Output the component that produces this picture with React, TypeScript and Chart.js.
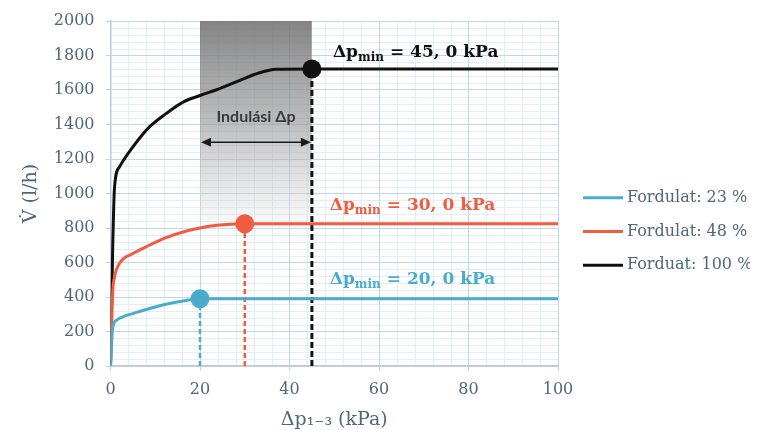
import React, { useEffect, useRef } from 'react';
import { Chart, registerables } from 'chart.js';

Chart.register(...registerables);

// ---- data ----
const seriesLabels = ['Fordulat: 23 %', 'Fordulat: 48 %', 'Forduat: 100 %'];
const seriesColors = ['#4aaccd', '#f15c3e', '#111111'];

const blueX = [0, 0.4, 0.8, 1.3, 3, 5, 8.7, 12.4, 16.2, 20, 100];
const blueY = [0, 200, 250, 265, 288, 304, 333, 358, 377, 390, 390];

const redX = [0, 0.5, 0.9, 2, 5, 8.7, 12.4, 16.2, 20, 23.7, 30, 100];
const redY = [0, 430, 516, 594, 652, 700, 744, 777, 800, 816, 825, 825];

const blackX = [0, 0.5, 0.9, 2, 5, 8.7, 12.4, 16.2, 20, 24.4, 28.9, 33.3, 37, 45, 100];
const blackY = [0, 700, 1038, 1154, 1270, 1386, 1463, 1530, 1568, 1608, 1656, 1700, 1720, 1722, 1722];

// minimum pressure points (Δp_min) per series
const minPressure = [20, 30, 45];
const minFlow = [390, 825, 1722];
const minLabels = ['20, 0 kPa', '30, 0 kPa', '45, 0 kPa'];
const minLabelX = [49, 49, 49.7];
const minLabelY = [474, 903, 1790];

// startup Δp range
const startupRange = [20, 45];
const startupTop = 2000;
const startupArrowY = 1297;
const startupTextY = 1442;
const startupText = 'Indulási Δp';

const xTicksMax = 100;
const yTicksMax = 2000;

const TICK_COLOR = '#4f6779';
const SERIF = '"DejaVu Serif", serif';

const pts = (xs: number[], ys: number[]) => xs.map((x, i) => ({ x, y: ys[i] }));

const minorGrid = {
  id: 'minorGrid',
  beforeDraw(chart: any) {
    const { ctx, chartArea } = chart;
    const xs = chart.scales.x;
    const ys = chart.scales.y;
    ctx.save();
    ctx.strokeStyle = '#e1eef6';
    ctx.lineWidth = 1;
    for (let v = 0; v <= xTicksMax; v += 4) {
      if (v % 20 === 0) continue;
      const px = Math.round(xs.getPixelForValue(v)) + 0.5;
      ctx.beginPath();
      ctx.moveTo(px, chartArea.top);
      ctx.lineTo(px, chartArea.bottom);
      ctx.stroke();
    }
    for (let v = 0; v <= yTicksMax; v += 40) {
      if (v % 200 === 0) continue;
      const py = Math.round(ys.getPixelForValue(v)) + 0.5;
      ctx.beginPath();
      ctx.moveTo(chartArea.left, py);
      ctx.lineTo(chartArea.right, py);
      ctx.stroke();
    }
    ctx.restore();
  },
};

const annotations = {
  id: 'annotations',
  afterDatasetsDraw(chart: any) {
    const { ctx } = chart;
    const xs = chart.scales.x;
    const ys = chart.scales.y;
    ctx.save();
    // Δp_min labels
    for (let i = 0; i < 3; i++) {
      let x = xs.getPixelForValue(minLabelX[i]);
      const y = ys.getPixelForValue(minLabelY[i]);
      ctx.fillStyle = seriesColors[i];
      ctx.textBaseline = 'alphabetic';
      ctx.textAlign = 'left';
      ctx.font = `bold 17px ${SERIF}`;
      ctx.fillText('Δp', x, y);
      x += ctx.measureText('Δp').width;
      ctx.font = `bold 12px ${SERIF}`;
      ctx.fillText('min', x, y + 4);
      x += ctx.measureText('min').width;
      ctx.font = `bold 17px ${SERIF}`;
      ctx.fillText(' = ' + minLabels[i], x, y);
    }
    // arrow
    const x1 = xs.getPixelForValue(startupRange[0]);
    const x2 = xs.getPixelForValue(startupRange[1]);
    const ay = ys.getPixelForValue(startupArrowY);
    ctx.strokeStyle = '#1a1a1a';
    ctx.fillStyle = '#1a1a1a';
    ctx.lineWidth = 1.6;
    ctx.beginPath();
    ctx.moveTo(x1 + 6, ay);
    ctx.lineTo(x2 - 6, ay);
    ctx.stroke();
    const head = (tx: number, dir: number) => {
      ctx.beginPath();
      ctx.moveTo(tx, ay);
      ctx.lineTo(tx + dir * 10, ay - 4.5);
      ctx.lineTo(tx + dir * 10, ay + 4.5);
      ctx.closePath();
      ctx.fill();
    };
    head(x1 + 1, 1);
    head(x2 - 1, -1);
    // text
    ctx.font = 'bold 16px Lato, sans-serif';
    ctx.fillStyle = '#3a3a3a';
    ctx.textAlign = 'center';
    ctx.textBaseline = 'middle';
    ctx.fillText(startupText, (x1 + x2) / 2, ys.getPixelForValue(startupTextY));
    ctx.restore();
  },
};

const customLegend = {
  id: 'customLegend',
  afterDraw(chart: any) {
    const { ctx, chartArea } = chart;
    const h = chartArea.bottom - chartArea.top;
    const x0 = chartArea.right + 25;
    ctx.save();
    for (let i = 0; i < 3; i++) {
      const y = chartArea.top + h * 0.512 + i * 33.8;
      ctx.strokeStyle = seriesColors[i];
      ctx.lineWidth = 3;
      ctx.beginPath();
      ctx.moveTo(x0, y);
      ctx.lineTo(x0 + 40, y);
      ctx.stroke();
      ctx.fillStyle = TICK_COLOR;
      ctx.font = `16px ${SERIF}`;
      ctx.textAlign = 'left';
      ctx.textBaseline = 'middle';
      ctx.fillText(seriesLabels[i], x0 + 44, y);
    }
    ctx.restore();
  },
};

export default function App() {
  const ref = useRef<HTMLCanvasElement>(null);

  useEffect(() => {
    if (!ref.current) return;
    const curveBase = {
      showLine: true,
      pointRadius: 0,
      borderWidth: 3,
      cubicInterpolationMode: 'monotone' as const,
      fill: false,
    };
    const chart = new Chart(ref.current, {
      type: 'scatter',
      data: {
        datasets: [
          {
            label: 'startup',
            data: [
              { x: startupRange[0], y: startupTop },
              { x: startupRange[1], y: startupTop },
            ],
            showLine: true,
            borderWidth: 0,
            pointRadius: 0,
            fill: 'origin',
            order: 10,
            backgroundColor: (c: any) => {
              const ch = c.chart;
              if (!ch.chartArea) return 'rgba(0,0,0,0)';
              const ys = ch.scales.y;
              const top = ys.getPixelForValue(startupTop);
              const bot = ys.getPixelForValue(0);
              const g = ch.ctx.createLinearGradient(0, top, 0, bot);
              g.addColorStop(0, 'rgba(115,115,115,0.88)');
              g.addColorStop(0.3, 'rgba(150,150,150,0.62)');
              g.addColorStop(0.5, 'rgba(200,200,200,0.38)');
              g.addColorStop(0.7, 'rgba(255,255,255,0)');
              g.addColorStop(1, 'rgba(255,255,255,0)');
              return g;
            },
          },
          ...minPressure.map((p, i) => ({
            label: 'drop' + i,
            data: [
              { x: p, y: 0 },
              { x: p, y: minFlow[i] },
            ],
            showLine: true,
            pointRadius: 0,
            borderColor: seriesColors[i],
            borderWidth: i === 2 ? 3 : 2.5,
            borderDash: i === 2 ? [6, 3] : [5, 3],
            order: 5,
          })),
          { ...curveBase, label: seriesLabels[0], data: pts(blueX, blueY), borderColor: seriesColors[0], order: 3 },
          { ...curveBase, label: seriesLabels[1], data: pts(redX, redY), borderColor: seriesColors[1], order: 3 },
          { ...curveBase, label: seriesLabels[2], data: pts(blackX, blackY), borderColor: seriesColors[2], order: 3 },
          {
            label: 'min points',
            data: pts(minPressure, minFlow),
            showLine: false,
            pointRadius: 9.5,
            pointBorderWidth: 0,
            pointBackgroundColor: seriesColors,
            pointBorderColor: seriesColors,
            order: 1,
          },
        ],
      },
      options: {
        animation: false,
        responsive: false,
        layout: { padding: { top: 21, right: 192, bottom: 9, left: 0 } },
        plugins: {
          legend: { display: false },
          tooltip: { enabled: false },
        },
        scales: {
          x: {
            type: 'linear',
            min: 0,
            max: xTicksMax,
            ticks: {
              stepSize: 20,
              color: TICK_COLOR,
              font: { family: SERIF, size: 16 },
              padding: 9,
              callback: (v: any) => String(v),
            },
            grid: { color: '#bcd9ea', tickLength: 5, lineWidth: 1 },
            border: { color: '#b9ccd8', width: 1.5 },
            title: {
              display: true,
              text: 'Δp₁₋₃ (kPa)',
              color: TICK_COLOR,
              font: { family: SERIF, size: 19 },
              padding: { top: 0, bottom: 0 },
            },
          },
          y: {
            type: 'linear',
            min: 0,
            max: yTicksMax,
            ticks: {
              stepSize: 200,
              color: TICK_COLOR,
              font: { family: SERIF, size: 16 },
              padding: 11,
              callback: (v: any) => String(v),
            },
            grid: { color: '#bcd9ea', tickLength: 5, lineWidth: 1 },
            border: { color: '#b9ccd8', width: 1.5 },
            title: {
              display: true,
              text: 'V̇ (l/h)',
              color: TICK_COLOR,
              font: { family: SERIF, size: 19 },
              padding: { top: 20, bottom: 0 },
            },
          },
        },
      },
      plugins: [minorGrid, annotations, customLegend],
    });
    return () => chart.destroy();
  }, []);

  return (
    <div
      style={{
        position: 'fixed',
        left: 0,
        top: 0,
        width: 750,
        height: 430,
        overflow: 'hidden',
        background: '#fff',
      }}
    >
      <canvas ref={ref} width={750} height={440} style={{ display: 'block' }} />
    </div>
  );
}
